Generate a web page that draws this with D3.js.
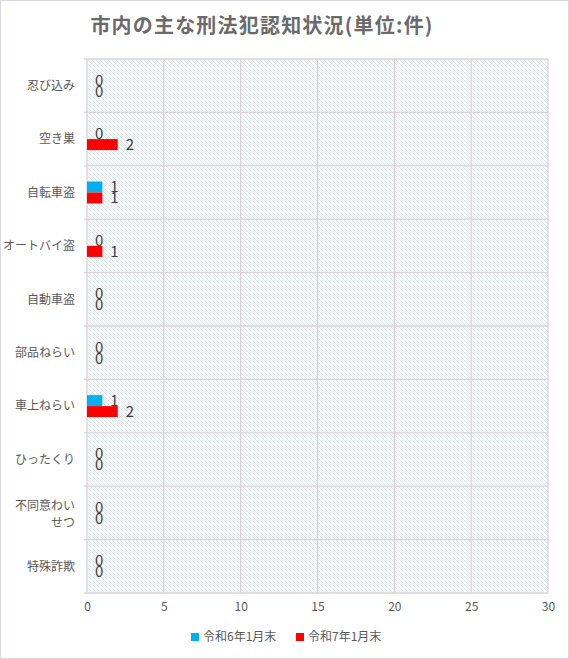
<!DOCTYPE html>
<html>
<head>
<meta charset="utf-8">
<script src="https://cdn.jsdelivr.net/npm/d3@7"></script>
<style>
  body { margin: 0; background: #fff; }
  svg text { font-family: "Noto Sans CJK JP", "Noto Sans", sans-serif; }
</style>
</head>
<body>
<div id="chart"></div>
<script>
const categories = ["忍び込み", "空き巣", "自転車盗", "オートバイ盗", "自動車盗", "部品ねらい", "車上ねらい", "ひったくり", "不同意わいせつ", "特殊詐欺"];
const seriesNames = ["令和6年1月末", "令和7年1月末"];
const valuesR6 = [0, 0, 1, 0, 0, 0, 1, 0, 0, 0];
const valuesR7 = [0, 2, 1, 1, 0, 0, 2, 0, 0, 0];
const xTicks = [0, 5, 10, 15, 20, 25, 30];
const colors = ["#00B0F0", "#FF0000"];

const width = 569;
const height = 659;
const plot = { left: 87, right: 548, top: 59, bottom: 593 };

const rows = categories.map((c, i) => ({ cat: c, vals: [valuesR6[i], valuesR7[i]] }));

const svg = d3
  .select("#chart")
  .append("svg")
  .attr("width", width)
  .attr("height", height);

// hatch fill of the plot area
const defs = svg.append("defs");
const pat = defs
  .append("pattern")
  .attr("id", "hatch")
  .attr("patternUnits", "userSpaceOnUse")
  .attr("width", 4)
  .attr("height", 4);
pat.append("rect").attr("width", 4).attr("height", 4).attr("fill", "#fcfcfc");
pat
  .append("path")
  .attr("d", "M0,0 L4,4 M-1,3 L1,5 M3,-1 L5,1")
  .attr("stroke", "#dadada")
  .attr("stroke-width", 0.8);
pat
  .append("path")
  .attr("d", "M2,0 L4,2 M0,2 L2,4")
  .attr("stroke", "#e4f8fb")
  .attr("stroke-width", 0.6);

// outer frame
svg
  .append("rect")
  .attr("x", 0.5)
  .attr("y", 0.5)
  .attr("width", width - 1)
  .attr("height", height - 1)
  .attr("fill", "#fff")
  .attr("stroke", "#d9d9e6");

svg
  .append("text")
  .attr("x", 262)
  .attr("y", 33)
  .attr("text-anchor", "middle")
  .attr("font-size", 20)
  .attr("font-weight", 600)
  .attr("letter-spacing", 1.2)
  .attr("fill", "#6a6a6a")
  .text("市内の主な刑法犯認知状況(単位:件)");

const x = d3.scaleLinear().domain([0, 30]).range([plot.left, plot.right]);

const y = d3
  .scaleBand()
  .domain(categories)
  .range([plot.top, plot.bottom])
  .paddingInner(0.588)
  .paddingOuter(0.294);

const ySub = d3.scaleBand().domain([0, 1]).range([0, y.bandwidth()]);

svg
  .append("rect")
  .attr("x", plot.left)
  .attr("y", plot.top)
  .attr("width", plot.right - plot.left)
  .attr("height", plot.bottom - plot.top)
  .attr("fill", "url(#hatch)");

// gridlines
const grid = svg.append("g").attr("stroke", "#ddd3da").attr("stroke-width", 1.3);
grid
  .selectAll("line.v")
  .data(xTicks)
  .enter()
  .append("line")
  .attr("x1", (d) => x(d))
  .attr("x2", (d) => x(d))
  .attr("y1", plot.top)
  .attr("y2", plot.bottom);

const step = y.step();
grid
  .selectAll("line.h")
  .data(d3.range(categories.length + 1))
  .enter()
  .append("line")
  .attr("x1", plot.left - 3)
  .attr("x2", plot.right)
  .attr("y1", (i) => plot.top + i * step)
  .attr("y2", (i) => plot.top + i * step);

// x axis
const xAxis = d3.axisBottom(x).tickValues(xTicks).tickSize(0).tickPadding(9);
const gx = svg
  .append("g")
  .attr("transform", `translate(0,${plot.bottom})`)
  .call(xAxis);
gx.select(".domain").remove();
gx.selectAll("text").attr("font-size", 12).attr("fill", "#595959");

// y axis labels
const yAxis = d3.axisLeft(y).tickSize(0).tickPadding(12).tickFormat("");
const gy = svg.append("g").attr("transform", `translate(${plot.left},0)`).call(yAxis);
gy.select(".domain").remove();
gy.selectAll(".tick").each(function (d) {
  const t = d3
    .select(this)
    .append("text")
    .attr("x", -12)
    .attr("text-anchor", "end")
    .attr("font-size", 12)
    .attr("fill", "#595959");
  if (d.length > 6) {
    const lines = [d.slice(0, 5), d.slice(5)];
    lines.forEach((l, i) => {
      t.append("tspan")
        .attr("x", -12)
        .attr("dy", i === 0 ? "-0.25em" : "1.45em")
        .text(l);
    });
  } else {
    t.attr("dy", "0.35em").text(d);
  }
});

// bars
const groups = svg
  .selectAll("g.cat")
  .data(rows)
  .enter()
  .append("g")
  .attr("class", "cat")
  .attr("transform", (d) => `translate(0,${y(d.cat)})`);

groups
  .selectAll("rect")
  .data((d) => d.vals.map((v, i) => ({ v, i })))
  .enter()
  .append("rect")
  .attr("x", x(0))
  .attr("y", (d) => ySub(d.i))
  .attr("width", (d) => x(d.v) - x(0))
  .attr("height", ySub.bandwidth())
  .attr("fill", (d) => colors[d.i]);

groups
  .selectAll("text")
  .data((d) => d.vals.map((v, i) => ({ v, i })))
  .enter()
  .append("text")
  .attr("x", (d) => x(d.v) + 8)
  .attr("y", (d) => ySub(d.i) + ySub.bandwidth() / 2)
  .attr("dy", "0.36em")
  .attr("font-size", 15)
  .attr("fill", "#404040")
  .text((d) => d.v);

// legend
const legendX = [191, 296];
const legend = svg
  .selectAll("g.legend")
  .data(seriesNames)
  .enter()
  .append("g")
  .attr("class", "legend")
  .attr("transform", (d, i) => `translate(${legendX[i]},637)`);
legend
  .append("rect")
  .attr("x", 0)
  .attr("y", -4)
  .attr("width", 8)
  .attr("height", 8)
  .attr("fill", (d, i) => colors[i]);
legend
  .append("text")
  .attr("x", 12)
  .attr("dy", "0.36em")
  .attr("font-size", 12)
  .attr("fill", "#595959")
  .text((d) => d);
</script>
</body>
</html>
